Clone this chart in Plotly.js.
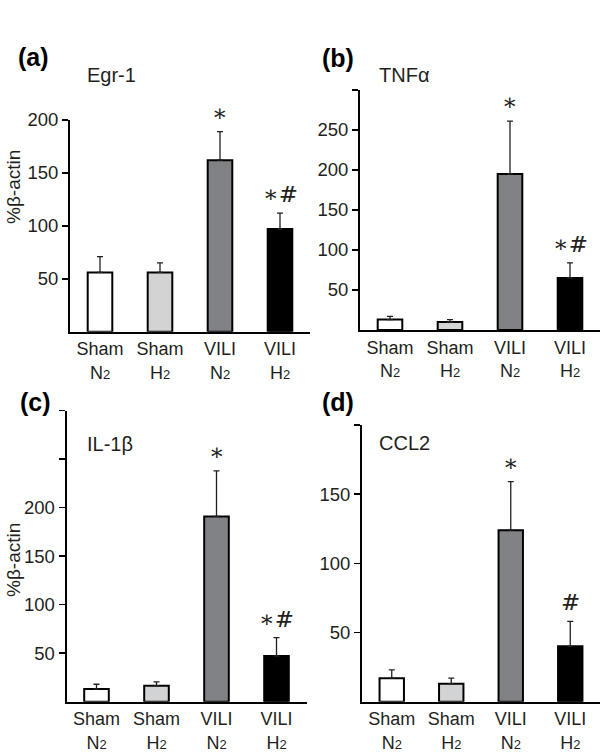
<!DOCTYPE html>
<html>
<head>
<meta charset="utf-8">
<script src="https://cdn.plot.ly/plotly-3.0.1.min.js"></script>
<style>html,body{margin:0;padding:0;background:#fff;}#chart{width:600px;height:754px;}</style>
</head>
<body>
<div id="chart"></div>
<script>
// ---- data ----
const groups = ['Sham', 'Sham', 'VILI', 'VILI'];
const gases = ['N', 'H', 'N', 'H'];
const egr1 = [56, 56, 162, 97];
const egr1Err = [15, 9, 27, 15];
const tnfa = [13, 10, 195, 65];
const tnfaErr = [4, 3, 66, 19];
const il1b = [13, 16.5, 191, 47];
const il1bErr = [5, 4, 47, 19];
const ccl2 = [17, 13, 124, 40];
const ccl2Err = [6, 4, 35, 18];
const sigEgr1 = ['', '', '∗', '∗#'];
const sigTnfa = ['', '', '∗', '∗#'];
const sigIl1b = ['', '', '∗', '∗#'];
const sigCcl2 = ['', '', '∗', '#'];
const panelLabels = ['(a)', '(b)', '(c)', '(d)'];
const geneNames = ['Egr-1', 'TNFα', 'IL-1β', 'CCL2'];
const yTitle = '%β-actin';
const yTicks = [[50, 100, 150, 200], [50, 100, 150, 200, 250, 300], [50, 100, 150, 200, 250, 300], [50, 100, 150, 200]];
const yTickText = [['50', '100', '150', '200'], ['50', '100', '150', '200', '250', ''], ['50', '100', '150', '200', '', ''], ['50', '100', '150', '']];
const yMax = [200, 300, 300, 200];

// ---- styles ----
const barColors = ['#ffffff', '#d1d3d4', '#808285', '#000000'];
const ink = '#231f20';
const W = 600, H = 754;

const categories = groups.map((g, k) => g + '<br>' + gases[k] + '<span style="font-size:13px">2</span>');

const panels = [
  {vals: egr1, errs: egr1Err, sig: sigEgr1, x: [70, 310], y: [120, 331.7]},
  {vals: tnfa, errs: tnfaErr, sig: sigTnfa, x: [360, 600], y: [90, 330]},
  {vals: il1b, errs: il1bErr, sig: sigIl1b, x: [66.5, 306.5], y: [410.7, 701.7]},
  {vals: ccl2, errs: ccl2Err, sig: sigCcl2, x: [362, 600], y: [425, 701.7]}
];
const labelPos = [
  {p: [16, 57], g: [85, 75]},
  {p: [320, 58], g: [377, 75]},
  {p: [18, 402], g: [85, 444]},
  {p: [320, 402], g: [377, 443]}
];
const yTitlePos = [[13, 187], [13, 560]];

const traces = [];
const annotations = [];
const layout = {
  width: W, height: H,
  margin: {l: 0, r: 0, t: 0, b: 0},
  paper_bgcolor: '#fff', plot_bgcolor: '#fff',
  showlegend: false,
  font: {family: 'Liberation Sans, Arial, sans-serif', color: ink, size: 18},
  annotations: annotations
};

panels.forEach((p, i) => {
  const n = i === 0 ? '' : String(i + 1);
  const idx = categories.map((c, k) => k);
  traces.push({
    type: 'bar',
    x: idx,
    y: p.vals,
    xaxis: 'x' + n, yaxis: 'y' + n,
    width: 0.41,
    marker: {color: barColors, line: {color: '#000', width: 2}},
    error_y: {type: 'data', symmetric: false, array: p.errs, arrayminus: p.vals.map(() => 0),
              color: ink, thickness: 1.3, width: 3},
    hoverinfo: 'skip'
  });
  layout['xaxis' + n] = {
    domain: [p.x[0] / W, p.x[1] / W],
    anchor: 'y' + n,
    range: [-0.5, 3.5],
    tickvals: idx, ticktext: categories,
    ticks: '', showgrid: false, zeroline: false,
    showline: true, linecolor: '#000', linewidth: 2,
    tickfont: {size: 18, color: ink},
    fixedrange: true
  };
  layout['yaxis' + n] = {
    domain: [1 - p.y[1] / H, 1 - p.y[0] / H],
    anchor: 'x' + n,
    range: [0, yMax[i]],
    tickvals: yTicks[i], ticktext: yTickText[i],
    ticks: 'outside', ticklen: 6, tickwidth: 1.5, tickcolor: '#000',
    showgrid: false, zeroline: false,
    showline: true, linecolor: '#000', linewidth: 2,
    tickfont: {size: 18.5, color: ink},
    fixedrange: true
  };
  p.sig.forEach((s, k) => {
    if (!s) return;
    annotations.push({
      xref: 'x' + n, yref: 'y' + n,
      x: k, y: p.vals[k] + p.errs[k],
      text: s, showarrow: false,
      yanchor: 'middle', yshift: 19,
      font: {family: 'DejaVu Serif, Liberation Serif, serif', size: 23, color: ink}
    });
  });
  annotations.push({
    xref: 'paper', yref: 'paper',
    x: labelPos[i].p[0] / W, y: 1 - labelPos[i].p[1] / H,
    xanchor: 'left', yanchor: 'middle',
    text: '<b>' + panelLabels[i] + '</b>', showarrow: false,
    font: {size: 25, color: '#000'}
  });
  annotations.push({
    xref: 'paper', yref: 'paper',
    x: labelPos[i].g[0] / W, y: 1 - labelPos[i].g[1] / H,
    xanchor: 'left', yanchor: 'middle',
    text: geneNames[i], showarrow: false,
    font: {size: 20, color: ink}
  });
});

yTitlePos.forEach(pos => {
  annotations.push({
    xref: 'paper', yref: 'paper',
    x: pos[0] / W, y: 1 - pos[1] / H,
    xanchor: 'center', yanchor: 'middle',
    text: yTitle, textangle: -90, showarrow: false,
    font: {size: 19, color: ink}
  });
});

Plotly.newPlot('chart', traces, layout, {displayModeBar: false, staticPlot: true});
</script>
</body>
</html>
